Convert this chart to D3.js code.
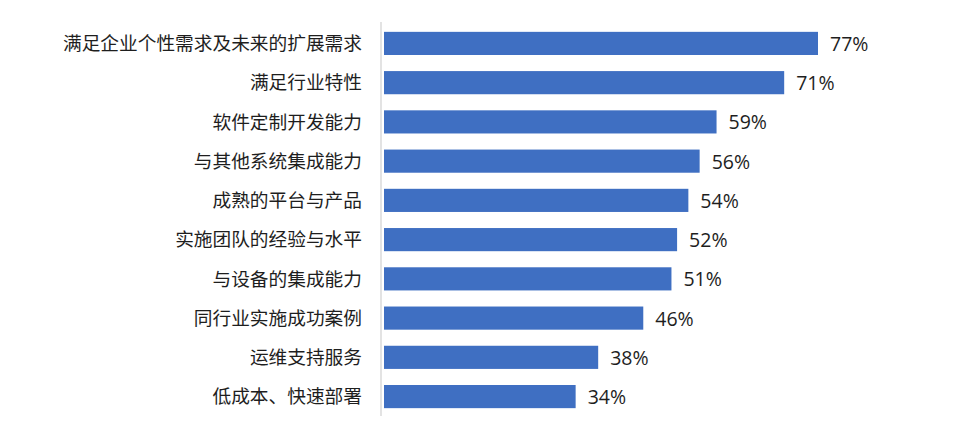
<!DOCTYPE html>
<html><head><meta charset="utf-8">
<script src="https://cdn.jsdelivr.net/npm/d3@7"></script>
<style>body{margin:0;background:#fff}svg{display:block}</style>
</head><body>
<script>
const categories = ["满足企业个性需求及未来的扩展需求","满足行业特性","软件定制开发能力","与其他系统集成能力","成熟的平台与产品","实施团队的经验与水平","与设备的集成能力","同行业实施成功案例","运维支持服务","低成本、快速部署"];
const values = [77,71,59,56,54,52,51,46,38,34];

const W=962,H=437;
const svg=d3.select("body").append("svg").attr("width",W).attr("height",H);
const x=d3.scaleLinear().domain([0,77]).range([384,818]);
const y=d3.scaleBand().domain(categories).range([24,416]).paddingInner(0.41).paddingOuter(0.2);
const font="'Noto Sans CJK SC','Microsoft YaHei',sans-serif";

svg.selectAll("rect.bar").data(values).join("rect").attr("class","bar")
  .attr("x",x(0)).attr("y",(d,i)=>y(categories[i]))
  .attr("width",d=>x(d)-x(0)).attr("height",y.bandwidth())
  .attr("fill","#3f6fc2");

svg.append("line").attr("x1",381).attr("x2",381).attr("y1",22).attr("y2",416)
  .attr("stroke","#d0d0d0").attr("stroke-width",1.2);

svg.selectAll("text.cat").data(categories).join("text").attr("class","cat")
  .attr("x",362).attr("y",d=>y(d)+y.bandwidth()/2).attr("dy","0.36em")
  .attr("text-anchor","end").attr("font-family",font).attr("font-size",18.7)
  .attr("fill","#1e1e1e").text(d=>d);

svg.selectAll("text.val").data(values).join("text").attr("class","val")
  .attr("x",d=>x(d)+12).attr("y",(d,i)=>y(categories[i])+y.bandwidth()/2).attr("dy","0.38em")
  .attr("font-family","'Open Sans','Noto Sans',sans-serif").attr("font-size",19.5)
  .attr("fill","#1e1e1e").text(d=>d+"%");
</script>
</body></html>
